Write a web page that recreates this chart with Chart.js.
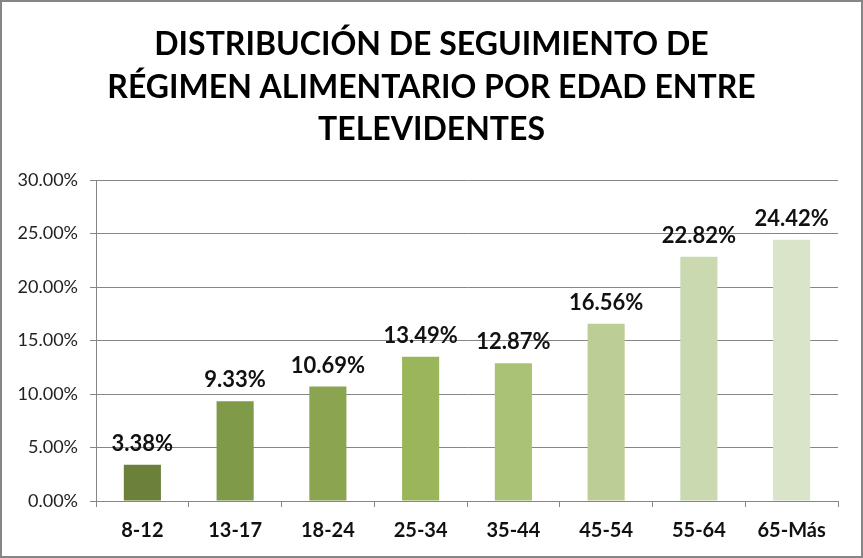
<!DOCTYPE html>
<html>
<head>
<meta charset="utf-8">
<script src="https://cdn.jsdelivr.net/npm/chart.js@4"></script>
<style>
  html, body { margin: 0; padding: 0; background: #fff; }
  #wrap { width: 863px; height: 558px; position: relative; }
</style>
</head>
<body>
<div id="wrap"><canvas id="chart"></canvas></div>
<script>
// ===== DATOS =====
const categorias = ["8-12", "13-17", "18-24", "25-34", "35-44", "45-54", "55-64", "65-Más"];
const porcentajes = [3.38, 9.33, 10.69, 13.49, 12.87, 16.56, 22.82, 24.42];
const colores = ["#6b8139", "#7f9a48", "#8aa44f", "#9bb65a", "#a9c275", "#bccd96", "#cad9b0", "#dae4c8"];
const titulo = ["DISTRIBUCIÓN DE SEGUIMIENTO DE", "RÉGIMEN ALIMENTARIO POR EDAD ENTRE", "TELEVIDENTES"];

const fuente = "Lato, 'Open Sans', sans-serif";

// ===== PLUGINS =====
const etiquetas = {
  id: "etiquetas",
  afterDatasetsDraw(chart) {
    const ctx = chart.ctx;
    const meta = chart.getDatasetMeta(0);
    ctx.save();
    ctx.font = "bold 22px " + fuente;
    ctx.fillStyle = "#111";
    ctx.textAlign = "center";
    ctx.textBaseline = "alphabetic";
    meta.data.forEach((bar, i) => {
      ctx.fillText(porcentajes[i].toFixed(2) + "%", bar.x, bar.y - 14);
    });
    ctx.restore();
  }
};

// titulo centrado en todo el recuadro (como en Excel)
const tituloPlugin = {
  id: "tituloPlugin",
  afterDraw(chart) {
    const ctx = chart.ctx;
    ctx.save();
    ctx.font = "bold 32px " + fuente;
    ctx.fillStyle = "#000";
    ctx.textAlign = "center";
    ctx.textBaseline = "middle";
    titulo.forEach((linea, i) => {
      ctx.fillText(linea, chart.width / 2, 45 + i * 42.5);
    });
    ctx.strokeStyle = "#868686";
    ctx.lineWidth = 2;
    ctx.strokeRect(1, 1, chart.width - 2, chart.height - 2);
    ctx.restore();
  }
};

// ===== GRAFICO =====
const ctx = document.getElementById("chart").getContext("2d");

new Chart(ctx, {
  type: "bar",
  data: {
    labels: categorias,
    datasets: [{
      data: porcentajes,
      backgroundColor: colores,
      categoryPercentage: 0.8,
      barPercentage: 0.5
    }]
  },
  options: {
    responsive: true,
    maintainAspectRatio: false,
    animation: false,
    layout: { padding: { left: 0, right: 25, top: 180, bottom: 0 } },
    plugins: {
      legend: { display: false },
      tooltip: { enabled: false },
      title: { display: false }
    },
    scales: {
      y: {
        min: 0,
        max: 30,
        ticks: {
          stepSize: 5,
          color: "#222",
          padding: 12,
          font: { family: fuente, size: 18 },
          callback: v => v.toFixed(2) + "%"
        },
        grid: { color: "#868686", lineWidth: 1, tickLength: 6 },
        border: { color: "#868686" },
        afterFit(scale) { scale.width = 96; }
      },
      x: {
        ticks: {
          color: "#111",
          padding: 12,
          font: { family: fuente, size: 20, weight: "bold" }
        },
        grid: { drawOnChartArea: false, color: "#868686", tickLength: 6 },
        border: { color: "#868686" },
        afterFit(scale) { scale.height = 57; }
      }
    }
  },
  plugins: [etiquetas, tituloPlugin]
});
</script>
</body>
</html>
